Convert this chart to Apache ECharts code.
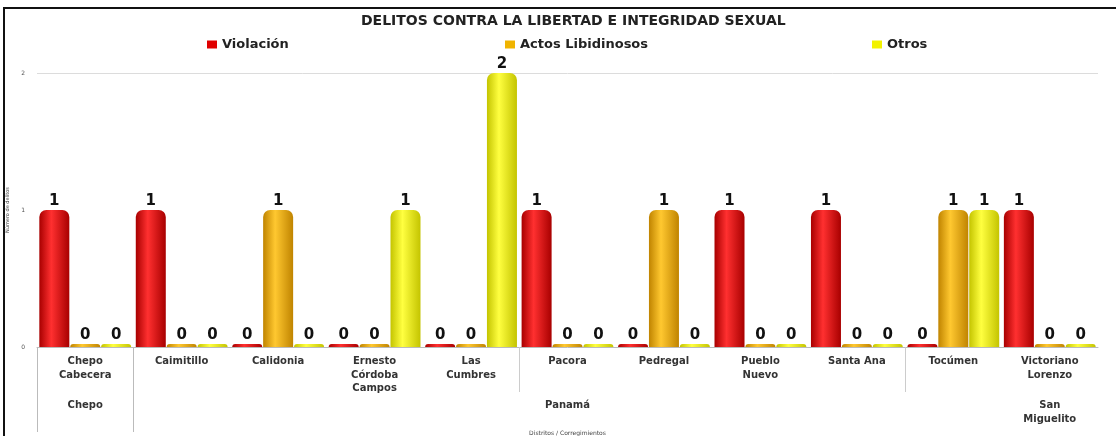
<!DOCTYPE html>
<html>
<head>
<meta charset="utf-8">
<script src="https://cdn.jsdelivr.net/npm/echarts@6/dist/echarts.min.js"></script>
<style>
  html, body { margin: 0; padding: 0; background: #fff; }
  .frame {
    position: absolute;
    left: 3px;
    top: 7px;
    width: 1120px;
    height: 440px;
    border-top: 2px solid #111;
    border-left: 2px solid #111;
  }
  #chart { position: absolute; left: 0; top: 0; width: 1116px; height: 436px; }
</style>
</head>
<body>
<div class="frame"></div>
<div id="chart"></div>
<script>
const categories = [
  'Chepo\nCabecera', 'Caimitillo', 'Calidonia', 'Ernesto\nCórdoba\nCampos', 'Las\nCumbres',
  'Pacora', 'Pedregal', 'Pueblo\nNuevo', 'Santa Ana', 'Tocúmen', 'Victoriano\nLorenzo'
]
// district groups: name and position (in category units) of its label
const districtNames = ['Chepo', 'Panamá', 'San\nMiguelito']
const districtLabelAt = [0.5, 5.5, 10.5]
const districtBounds = [0, 1]
const innerBounds = [5, 9]

const violacion = [1, 1, 0, 0, 0, 1, 0, 1, 1, 0, 1]
const actosLibidinosos = [0, 0, 1, 0, 0, 0, 1, 0, 0, 1, 0]
const otros = [0, 0, 0, 1, 2, 0, 0, 0, 0, 1, 0]
const yTicks = [0, 1, 2]

const chartInstance = echarts.init(document.getElementById('chart'))

const cylinder = (dark, light) => new echarts.graphic.LinearGradient(0, 0, 1, 0, [
  { offset: 0, color: dark },
  { offset: 0.4, color: light },
  { offset: 1, color: dark }
])

const makeSeries = (name, data, dark, light) => ({
  type: 'bar',
  name: name,
  data: data,
  barWidth: 30,
  barGap: '3%',
  barMinHeight: 3,
  itemStyle: {
    color: cylinder(dark, light),
    borderRadius: [7, 7, 0, 0]
  },
  label: {
    show: true,
    position: 'top',
    distance: 1,
    color: '#111',
    fontFamily: 'DejaVu Sans',
    fontWeight: 'bold',
    fontSize: 15
  }
})

const makeLegend = (name, color, left) => ({
  data: [{ name: name, itemStyle: { color: color } }],
  left: left,
  top: 33,
  icon: 'rect',
  itemWidth: 10,
  itemHeight: 8,
  selectedMode: false,
  textStyle: {
    fontFamily: 'DejaVu Sans',
    fontWeight: 'bold',
    fontSize: 13,
    color: '#222'
  }
})

const boundAxis = (bounds, len, color) => ({
  type: 'value',
  position: 'bottom',
  min: 0,
  max: categories.length,
  axisLine: { show: false },
  splitLine: { show: false },
  axisTick: {
    show: true,
    customValues: bounds,
    length: len,
    lineStyle: { color: color }
  },
  axisLabel: { show: false }
})

const labelFont = {
  fontFamily: 'DejaVu Sans',
  fontWeight: 'bold',
  fontSize: 10,
  lineHeight: 13.5,
  color: '#333'
}

const option = {
  animation: false,
  title: {
    text: 'DELITOS CONTRA LA LIBERTAD E INTEGRIDAD SEXUAL',
    left: 356,
    top: 9,
    textStyle: {
      fontFamily: 'DejaVu Sans',
      fontWeight: 'bold',
      fontSize: 14,
      color: '#222'
    }
  },
  color: ['#e00000', '#f0a800', '#f2f200'],
  legend: [
    makeLegend('Violación', '#e00000', 202),
    makeLegend('Actos Libidinosos', '#f0b400', 500),
    makeLegend('Otros', '#f2f200', 867)
  ],
  grid: {
    left: 37,
    right: 18,
    top: 73,
    bottom: 89,
    outerBoundsMode: 'none'
  },
  xAxis: [
    {
      type: 'category',
      data: categories,
      axisLine: { lineStyle: { color: '#bbb', width: 1 } },
      axisTick: { show: false },
      axisLabel: Object.assign({ interval: 0, margin: 8 }, labelFont)
    },
    Object.assign(boundAxis(innerBounds, 45, '#ccc'), {
      name: 'Distritos / Corregimientos',
      nameLocation: 'middle',
      nameGap: 83,
      nameTextStyle: {
        fontFamily: 'DejaVu Sans',
        fontSize: 6,
        color: '#444'
      }
    }),
    Object.assign(boundAxis(districtBounds, 85, '#bbb'), {
      axisLabel: Object.assign({
        show: true,
        customValues: districtLabelAt,
        formatter: (v) => districtNames[districtLabelAt.indexOf(v)] || '',
        margin: 52
      }, labelFont)
    })
  ],
  yAxis: {
    type: 'value',
    min: yTicks[0],
    max: yTicks[yTicks.length - 1],
    interval: 1,
    axisLine: { show: false },
    axisTick: { show: false },
    axisLabel: {
      margin: 12,
      fontFamily: 'DejaVu Sans',
      fontSize: 6,
      color: '#555'
    },
    splitLine: {
      lineStyle: { color: ['transparent', 'transparent', '#dcdcdc'] }
    },
    name: 'Número de delitos',
    nameLocation: 'middle',
    nameGap: 8,
    nameTextStyle: {
      fontFamily: 'DejaVu Sans',
      fontSize: 5,
      color: '#444'
    }
  },
  series: [
    makeSeries('Violación', violacion, '#a80000', '#ff3030'),
    makeSeries('Actos Libidinosos', actosLibidinosos, '#c08400', '#ffc830'),
    makeSeries('Otros', otros, '#c4c400', '#ffff40')
  ]
}

chartInstance.setOption(option)
</script>
</body>
</html>
